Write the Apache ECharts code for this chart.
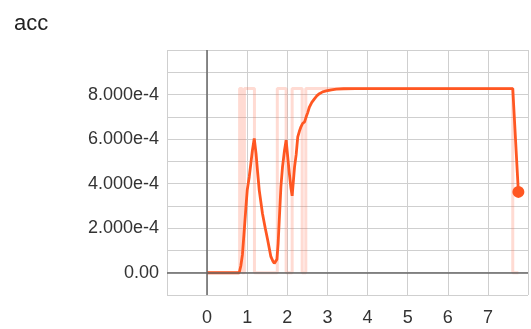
<!DOCTYPE html>
<html>
<head>
<meta charset="utf-8">
<script src="https://cdn.jsdelivr.net/npm/echarts@6/dist/echarts.min.js"></script>
<style>
  html, body { margin: 0; padding: 0; background: #fff; }
  #chart { width: 531px; height: 329px; }
</style>
</head>
<body>
<div id="chart"></div>
<script>
// acceleration trace (time, value)
const accTime = [0, 0.8, 0.84, 0.88, 0.93, 0.97, 1.0, 1.05, 1.09, 1.13, 1.175, 1.22, 1.26, 1.3, 1.38, 1.45,
  1.51, 1.59, 1.64, 1.675, 1.71, 1.74, 1.77, 1.8, 1.84, 1.88, 1.93, 1.97, 2.01, 2.05, 2.09, 2.12,
  2.15, 2.18, 2.22, 2.26, 2.3, 2.34, 2.38, 2.43, 2.47, 2.51, 2.55, 2.61, 2.68, 2.74, 2.8, 2.88,
  2.97, 3.1, 3.22, 3.4, 3.7, 4.5, 5.5, 6.5, 7.62, 7.76];
const accValue = [0, 0, 0.3e-4, 0.8e-4, 2.0e-4, 3.0e-4, 3.7e-4, 4.3e-4, 4.9e-4, 5.5e-4, 6.03e-4, 5.35e-4, 4.5e-4, 3.7e-4, 2.66e-4, 2.0e-4,
  1.47e-4, 0.72e-4, 0.52e-4, 0.42e-4, 0.45e-4, 0.6e-4, 1.3e-4, 2.4e-4, 3.86e-4, 4.75e-4, 5.5e-4, 5.95e-4, 5.2e-4, 4.46e-4, 3.8e-4, 3.45e-4,
  4.1e-4, 4.75e-4, 5.3e-4, 6.1e-4, 6.35e-4, 6.55e-4, 6.7e-4, 6.77e-4, 7.0e-4, 7.2e-4, 7.44e-4, 7.65e-4, 7.82e-4, 7.95e-4, 8.04e-4, 8.12e-4,
  8.16e-4, 8.21e-4, 8.24e-4, 8.26e-4, 8.27e-4, 8.27e-4, 8.27e-4, 8.27e-4, 8.27e-4, 3.63e-4];

// on/off state signal, drawn at the saturation level
const stateTime = [0, 0.81, 0.81, 0.87, 0.87, 0.93, 0.93, 1.18, 1.18, 1.75, 1.75, 1.97, 1.97, 2.12, 2.12, 2.37, 2.37, 2.46, 2.46, 7.62, 7.62, 7.76];
const stateValue = [0, 0, 8.27e-4, 8.27e-4, 0, 0, 8.27e-4, 8.27e-4, 0, 0, 8.27e-4, 8.27e-4, 0, 0, 8.27e-4, 8.27e-4, 0, 0, 8.27e-4, 8.27e-4, 0, 0];

// tick labels
const xLabelValues = [0, 1, 2, 3, 4, 5, 6, 7];
const xLabelTexts = ['0', '1', '2', '3', '4', '5', '6', '7'];
const yLabelValues = [0, 2e-4, 4e-4, 6e-4, 8e-4];
const yLabelTexts = ['0.00', '2.000e-4', '4.000e-4', '6.000e-4', '8.000e-4'];

function pickLabel(values, texts, v, tol) {
  for (let i = 0; i < values.length; i++) {
    if (Math.abs(values[i] - v) < tol) return texts[i];
  }
  return '';
}

const accData = accTime.map((t, i) => {
  const item = { value: [t, accValue[i]] };
  if (i === accTime.length - 1) {
    item.symbol = 'circle';
    item.symbolSize = 12;
  }
  return item;
});
const stateData = stateTime.map((t, i) => [t, stateValue[i]]);

const font = "'Liberation Sans', Arial, sans-serif";
const gridColor = '#cfcfcf';
const lineColor = '#ff5722';

const chart = echarts.init(document.getElementById('chart'), null, { renderer: 'canvas' });
chart.setOption({
  animation: false,
  backgroundColor: '#ffffff',
  title: {
    text: 'acc',
    left: 9,
    top: 8,
    textStyle: { fontFamily: font, fontSize: 22, fontWeight: 'normal', color: '#222' }
  },
  grid: { left: 167, right: 3, top: 50, bottom: 34, containLabel: false },
  xAxis: {
    type: 'value',
    min: -1,
    max: 8,
    interval: 1,
    axisLine: { show: false },
    axisTick: { show: true, length: 8, lineStyle: { color: gridColor } },
    splitLine: { show: true, lineStyle: { color: gridColor, width: 1 } },
    axisLabel: {
      margin: 14,
      fontFamily: font,
      fontSize: 18,
      color: '#333',
      formatter: v => pickLabel(xLabelValues, xLabelTexts, v, 1e-6)
    }
  },
  yAxis: {
    type: 'value',
    min: -1e-4,
    max: 1e-3,
    interval: 1e-4,
    axisLine: { show: false },
    axisTick: { show: true, length: 7, lineStyle: { color: gridColor } },
    splitLine: { show: true, lineStyle: { color: gridColor, width: 1 } },
    axisLabel: {
      margin: 8,
      fontFamily: font,
      fontSize: 18,
      color: '#333',
      formatter: v => pickLabel(yLabelValues, yLabelTexts, v, 1e-9)
    }
  },
  series: [
    {
      name: 'state',
      type: 'line',
      data: stateData,
      showSymbol: false,
      silent: true,
      z: 1,
      lineStyle: { color: 'rgba(255, 110, 80, 0.25)', width: 3 }
    },
    {
      name: 'zero',
      type: 'line',
      data: [],
      silent: true,
      z: 2,
      markLine: {
        silent: true,
        symbol: 'none',
        label: { show: false },
        lineStyle: { color: '#666', width: 1.5, type: 'solid' },
        data: [{ yAxis: 0 }, { xAxis: 0 }]
      }
    },
    {
      name: 'acc',
      type: 'line',
      data: accData,
      symbol: 'none',
      showSymbol: true,
      showAllSymbol: true,
      z: 3,
      lineStyle: { color: lineColor, width: 2.8 },
      itemStyle: { color: lineColor }
    }
  ]
});
</script>
</body>
</html>
